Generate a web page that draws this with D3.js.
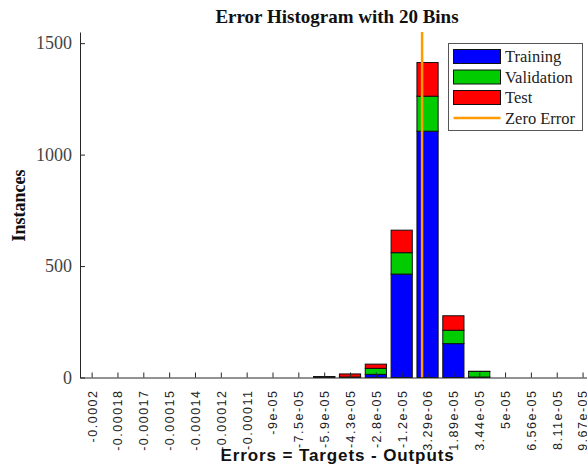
<!DOCTYPE html>
<html>
<head>
<meta charset="utf-8">
<script src="https://cdn.jsdelivr.net/npm/d3@7"></script>
<style>
  html, body { margin: 0; padding: 0; background: #fff; }
  svg { display: block; }
</style>
</head>
<body>
<svg id="chart" width="587" height="469"></svg>
<script>
// Bin centres of the 20-bin error histogram
const binCenters = [
  -1.99094e-04, -1.83526e-04, -1.67958e-04, -1.52390e-04, -1.36822e-04,
  -1.21254e-04, -1.05686e-04, -9.0118e-05, -7.4550e-05, -5.8982e-05,
  -4.3414e-05, -2.7846e-05, -1.2278e-05, 3.290e-06, 1.8858e-05,
  3.4426e-05, 4.9994e-05, 6.5562e-05, 8.1130e-05, 9.6698e-05
];
const tickLabels = [
  "-0.0002", "-0.00018", "-0.00017", "-0.00015", "-0.00014",
  "-0.00012", "-0.00011", "-9e-05", "-7.5e-05", "-5.9e-05",
  "-4.3e-05", "-2.8e-05", "-1.2e-05", "3.29e-06", "1.89e-05",
  "3.44e-05", "5e-05", "6.56e-05", "8.11e-05", "9.67e-05"
];
// Instance counts per bin
const training   = [0,0,0,0,0,0,0,0,0,2, 1,14,464,1105,152, 2,0,0,0,0];
const validation = [0,0,0,0,0,0,0,0,0,1, 1,27, 96, 157, 60,25,0,0,0,0];
const test       = [0,0,0,0,0,0,0,0,0,1,14,19,101, 151, 65, 1,0,0,0,0];
const yTicks = [0, 500, 1000, 1500];
const zeroError = 0;

const seriesNames = ["Training", "Validation", "Test"];
const seriesColors = { Training: "#0000ff", Validation: "#00cc00", Test: "#ff0000" };
const zeroColor = "#ff9a00";
const axisColor = "#262626";

const svg = d3.select("#chart");
const plot = { left: 80, top: 32, bottom: 377.5 };

const binW = binCenters[1] - binCenters[0];
const x = d3.scaleLinear()
  .domain([binCenters[0] - 0.45 * binW, binCenters[binCenters.length - 1] + 0.45 * binW])
  .range([plot.left, 594.2]);
const y = d3.scaleLinear().domain([0, 1550]).range([plot.bottom, plot.top]);

const rows = binCenters.map((c, i) => ({
  c, Training: training[i], Validation: validation[i], Test: test[i]
}));
const stacked = d3.stack().keys(seriesNames)(rows);

const barPx = (x(binCenters[1]) - x(binCenters[0])) * 0.82;

// stacked bars
const g = svg.append("g");
stacked.forEach(layer => {
  g.append("g")
    .selectAll("rect")
    .data(layer.filter(d => d[1] - d[0] > 0))
    .join("rect")
    .attr("x", d => x(d.data.c) - barPx / 2)
    .attr("width", barPx)
    .attr("y", d => y(d[1]))
    .attr("height", d => y(d[0]) - y(d[1]))
    .attr("fill", seriesColors[layer.key])
    .attr("stroke", "#111")
    .attr("stroke-width", 1);
});

// zero error line
svg.append("line")
  .attr("x1", x(zeroError)).attr("x2", x(zeroError))
  .attr("y1", plot.top).attr("y2", plot.bottom)
  .attr("stroke", zeroColor).attr("stroke-width", 2.5);

// x axis
const xAxis = d3.axisBottom(x)
  .tickValues(binCenters)
  .tickFormat((d, i) => tickLabels[i])
  .tickSizeInner(-5).tickSizeOuter(0);
const gx = svg.append("g")
  .attr("transform", `translate(0,${plot.bottom})`)
  .call(xAxis);
gx.select(".domain").attr("stroke", axisColor);
gx.selectAll(".tick line").attr("stroke", axisColor);
gx.selectAll(".tick text")
  .attr("font-family", "'Liberation Sans', Arial, sans-serif")
  .attr("font-size", 12.5)
  .attr("letter-spacing", "1.5px")
  .attr("fill", "#222")
  .attr("text-anchor", "end")
  .attr("transform", "rotate(-90)")
  .attr("x", -12)
  .attr("y", 0)
  .attr("dy", "0.35em")
  .attr("dx", 0);

// y axis
const yAxis = d3.axisLeft(y)
  .tickValues(yTicks)
  .tickFormat(d3.format("d"))
  .tickSizeInner(-5).tickSizeOuter(0);
const gy = svg.append("g")
  .attr("transform", `translate(${plot.left},0)`)
  .call(yAxis);
gy.select(".domain").attr("stroke", axisColor);
gy.selectAll(".tick line").attr("stroke", axisColor);
gy.selectAll(".tick text")
  .attr("font-family", "'Liberation Serif', 'Times New Roman', serif")
  .attr("font-size", 18)
  .attr("fill", "#444")
  .attr("x", -8);

// titles
svg.append("text")
  .attr("x", 337).attr("y", 22.5)
  .attr("text-anchor", "middle")
  .attr("font-family", "'Liberation Serif', 'Times New Roman', serif")
  .attr("font-weight", "bold").attr("font-size", 19)
  .attr("fill", "#111")
  .text("Error Histogram with 20 Bins");

svg.append("text")
  .attr("transform", "translate(25,205.5) rotate(-90)")
  .attr("text-anchor", "middle")
  .attr("font-family", "'Liberation Serif', 'Times New Roman', serif")
  .attr("font-weight", "bold").attr("font-size", 18)
  .attr("fill", "#111")
  .text("Instances");

svg.append("text")
  .attr("x", 337.5).attr("y", 461)
  .attr("text-anchor", "middle")
  .attr("font-family", "'Liberation Sans', Arial, sans-serif")
  .attr("font-weight", "bold").attr("font-size", 17)
  .attr("letter-spacing", "0.9px")
  .attr("fill", "#111")
  .text("Errors = Targets - Outputs");

// legend
const lg = svg.append("g").attr("transform", "translate(448.5,43.5)");
lg.append("rect")
  .attr("width", 134).attr("height", 87)
  .attr("fill", "#fff").attr("stroke", "#555").attr("stroke-width", 1);
const legendItems = seriesNames.map(n => ({ name: n, type: "patch" }))
  .concat([{ name: "Zero Error", type: "line" }]);
legendItems.forEach((it, i) => {
  const cy = 13 + i * 20.5;
  if (it.type === "patch") {
    lg.append("rect")
      .attr("x", 5).attr("y", cy - 7)
      .attr("width", 47).attr("height", 14)
      .attr("fill", seriesColors[it.name])
      .attr("stroke", "#111").attr("stroke-width", 1);
  } else {
    lg.append("line")
      .attr("x1", 5).attr("x2", 52).attr("y1", cy).attr("y2", cy)
      .attr("stroke", zeroColor).attr("stroke-width", 2.5);
  }
  lg.append("text")
    .attr("x", 56.5).attr("y", cy).attr("dy", "0.35em")
    .attr("font-family", "'Liberation Serif', 'Times New Roman', serif")
    .attr("font-size", 16.5)
    .attr("fill", "#222")
    .text(it.name);
});
</script>
</body>
</html>
